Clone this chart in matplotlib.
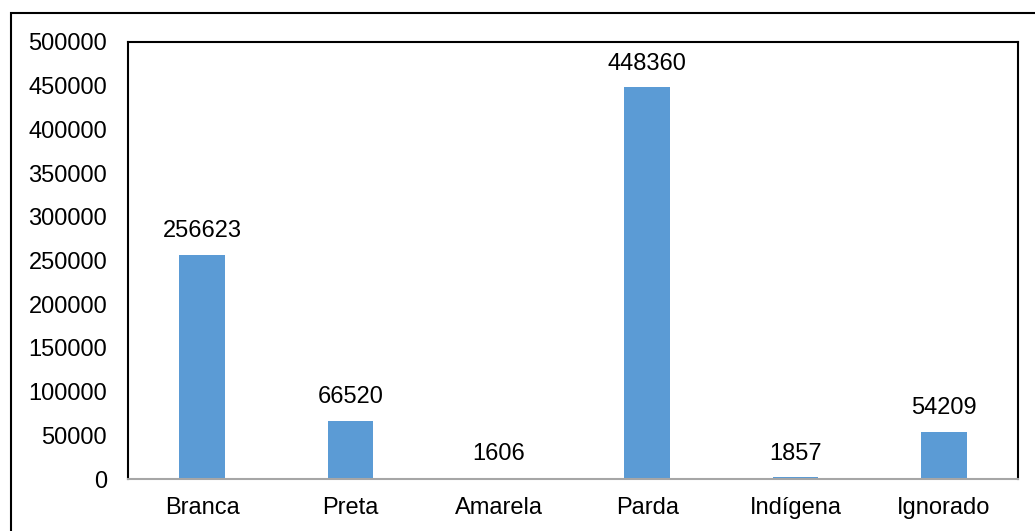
import matplotlib
matplotlib.use("Agg")
import matplotlib.pyplot as plt
from matplotlib.patches import Rectangle

categories = ["Branca", "Preta", "Amarela", "Parda", "Indígena", "Ignorado"]
values = [256623, 66520, 1606, 448360, 1857, 54209]
yticks = [0, 50000, 100000, 150000, 200000, 250000, 300000, 350000, 400000, 450000, 500000]

plt.rcParams['font.family'] = ['Liberation Sans', 'DejaVu Sans']

fig = plt.figure(figsize=(10.35, 5.31), dpi=100)
ax = fig.add_axes([128 / 1035, 1 - 479 / 531, 890 / 1035, 437 / 531])

# outer chart frame, runs off the right and bottom edges
fig.patches.append(Rectangle((10.5 / 1035, -0.1), 1.2, 1 - 12.5 / 531 + 0.1,
                             transform=fig.transFigure, fill=False,
                             edgecolor='black', linewidth=1.5))

x = range(len(categories))
ax.bar(x, values, width=0.31, color='#5B9BD5')
for i, v in enumerate(values):
    ax.annotate(str(v), (i, v), xytext=(0, 9), textcoords='offset points',
                ha='center', va='bottom', fontsize=17)

ax.set_xlim(-0.5, len(categories) - 0.5)
ax.set_ylim(0, 500000)
ax.set_yticks(yticks)
ax.set_yticklabels([str(t) for t in yticks])
ax.set_xticks(list(x))
ax.set_xticklabels(categories)
ax.tick_params(axis='y', length=0, pad=15, labelsize=17)
ax.tick_params(axis='x', length=0, pad=13, labelsize=17)

for side in ['top', 'left', 'right']:
    ax.spines[side].set_color('black')
    ax.spines[side].set_linewidth(1.5)
ax.spines['bottom'].set_color('#a6a6a6')
ax.spines['bottom'].set_linewidth(1.5)

fig.savefig("out.png", dpi=100)
